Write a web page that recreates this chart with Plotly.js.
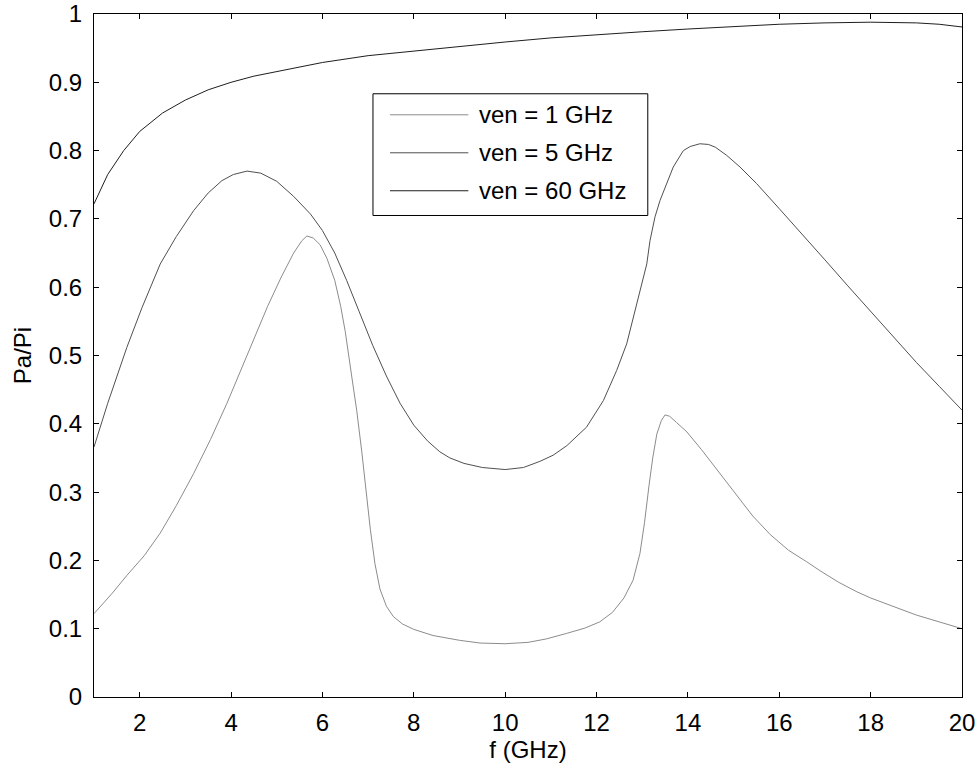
<!DOCTYPE html>
<html>
<head>
<meta charset="utf-8">
<script src="https://cdn.plot.ly/plotly-3.0.1.min.js"></script>
<style>html,body{margin:0;padding:0;background:#fff;}#chart{width:980px;height:771px;}</style>
</head>
<body>
<div id="chart"></div>
<script>
// Series names
const seriesNames = ["ven = 1 GHz", "ven = 5 GHz", "ven = 60 GHz"];

// ven = 1 GHz
const x1 = [1, 1.4, 1.72, 2.1, 2.45, 2.8, 3.18, 3.55, 3.91, 4.2, 4.5, 4.8, 5.1, 5.37, 5.55, 5.66, 5.8, 5.95, 6.1, 6.27, 6.4, 6.5, 6.64, 6.75, 6.86, 6.95, 7.05, 7.15, 7.26, 7.4, 7.55, 7.75, 8.0, 8.42, 9.0, 9.45, 10.0, 10.5, 10.9, 11.34, 11.75, 12.07, 12.35, 12.6, 12.8, 12.95, 13.05, 13.15, 13.23, 13.32, 13.42, 13.5, 13.6, 13.75, 13.98, 14.3, 14.7, 15.0, 15.42, 15.8, 16.2, 16.6, 16.89, 17.3, 17.7, 18, 18.5, 19, 19.5, 20];
const y1 = [0.122, 0.152, 0.178, 0.207, 0.24, 0.28, 0.327, 0.377, 0.43, 0.476, 0.525, 0.572, 0.615, 0.65, 0.668, 0.675, 0.672, 0.662, 0.642, 0.61, 0.572, 0.535, 0.47, 0.42, 0.36, 0.305, 0.245, 0.195, 0.158, 0.133, 0.118, 0.107, 0.099, 0.09, 0.083, 0.079, 0.078, 0.08, 0.085, 0.093, 0.101, 0.11, 0.124, 0.145, 0.171, 0.21, 0.255, 0.31, 0.35, 0.385, 0.405, 0.413, 0.411, 0.402, 0.388, 0.362, 0.328, 0.302, 0.265, 0.238, 0.215, 0.198, 0.185, 0.168, 0.154, 0.145, 0.132, 0.12, 0.11, 0.10];

// ven = 5 GHz
const x2 = [1, 1.3, 1.72, 2.05, 2.45, 2.8, 3.18, 3.5, 3.8, 4.05, 4.35, 4.65, 5.0, 5.37, 5.74, 6.0, 6.27, 6.53, 6.8, 7.1, 7.4, 7.7, 8.0, 8.3, 8.57, 8.79, 9.1, 9.5, 10.0, 10.4, 10.76, 11.05, 11.35, 11.78, 12.15, 12.44, 12.66, 12.81, 12.95, 13.1, 13.17, 13.28, 13.39, 13.53, 13.68, 13.9, 14.05, 14.26, 14.45, 14.6, 14.85, 15.14, 15.5, 16, 16.5, 17, 17.5, 18, 18.5, 19, 19.5, 20];
const y2 = [0.366, 0.43, 0.512, 0.57, 0.634, 0.674, 0.712, 0.738, 0.756, 0.765, 0.77, 0.767, 0.755, 0.733, 0.707, 0.683, 0.65, 0.61, 0.565, 0.515, 0.47, 0.43, 0.398, 0.375, 0.359, 0.35, 0.342, 0.336, 0.333, 0.336, 0.345, 0.354, 0.368, 0.395, 0.434, 0.478, 0.517, 0.556, 0.595, 0.634, 0.668, 0.703, 0.727, 0.751, 0.776, 0.8, 0.806, 0.81, 0.809, 0.805, 0.793, 0.776, 0.752, 0.715, 0.678, 0.64, 0.602, 0.565, 0.527, 0.49, 0.455, 0.42];

// ven = 60 GHz
const x3 = [1, 1.3, 1.65, 2, 2.5, 3, 3.5, 4, 4.5, 5, 6, 7, 8, 9, 10, 11, 12, 13, 14, 15, 16, 17, 18, 19, 19.5, 20];
const y3 = [0.722, 0.765, 0.80, 0.828, 0.855, 0.874, 0.889, 0.90, 0.909, 0.916, 0.929, 0.939, 0.946, 0.953, 0.959, 0.965, 0.97, 0.974, 0.978, 0.982, 0.985, 0.987, 0.988, 0.987, 0.985, 0.981];

const colors = ["#8c8c8c", "#505050", "#1e1e1e"];
const xs = [x1, x2, x3];
const ys = [y1, y2, y3];

const traces = xs.map((x, i) => ({
  x: x, y: ys[i], type: "scatter", mode: "lines", name: seriesNames[i],
  line: {color: colors[i], width: 1}, showlegend: false, hoverinfo: "skip"
}));

const font = {family: "Arial, 'Liberation Sans', sans-serif", size: 24, color: "#000"};

// MATLAB-like legend box (paper coords)
const legRows = [0.8524, 0.7968, 0.7412];
const shapes = [{
  type: "rect", xref: "paper", yref: "paper", x0: 0.3214, x1: 0.638, y0: 0.705, y1: 0.8832,
  line: {color: "#000", width: 1}, fillcolor: "#fff", layer: "above"
}];
const annotations = [];
seriesNames.forEach((n, i) => {
  shapes.push({type: "line", xref: "paper", yref: "paper", x0: 0.3410, x1: 0.4313, y0: legRows[i], y1: legRows[i],
    line: {color: colors[i], width: 1}, layer: "above"});
  annotations.push({xref: "paper", yref: "paper", x: 0.4412, y: legRows[i], xanchor: "left", yanchor: "middle",
    text: n, showarrow: false, font: font});
});

const layout = {
  width: 980, height: 771,
  margin: {l: 94, r: 18, t: 14, b: 74, pad: 0},
  paper_bgcolor: "#fff", plot_bgcolor: "#fff",
  font: font,
  xaxis: {
    range: [1, 20], tickmode: "array", tickvals: [2,4,6,8,10,12,14,16,18,20],
    ticks: "inside", ticklen: 5, tickcolor: "#000", showgrid: false, zeroline: false,
    showline: true, linecolor: "#000", linewidth: 1, mirror: "ticks",
    title: {text: "f (GHz)", font: font, standoff: 0},
    ticklabelstandoff: 4
  },
  yaxis: {
    range: [0, 1], tickmode: "array", tickvals: [0,0.1,0.2,0.3,0.4,0.5,0.6,0.7,0.8,0.9,1],
    ticktext: ["0","0.1","0.2","0.3","0.4","0.5","0.6","0.7","0.8","0.9","1"],
    ticks: "inside", ticklen: 5, tickcolor: "#000", showgrid: false, zeroline: false,
    showline: true, linecolor: "#000", linewidth: 1, mirror: "ticks",
    title: {text: "Pa/Pi", font: font, standoff: 10},
    ticklabelstandoff: 6
  },
  shapes: shapes,
  annotations: annotations,
  showlegend: false
};

Plotly.newPlot("chart", traces, layout, {displayModeBar: false, staticPlot: true});
</script>
</body>
</html>
